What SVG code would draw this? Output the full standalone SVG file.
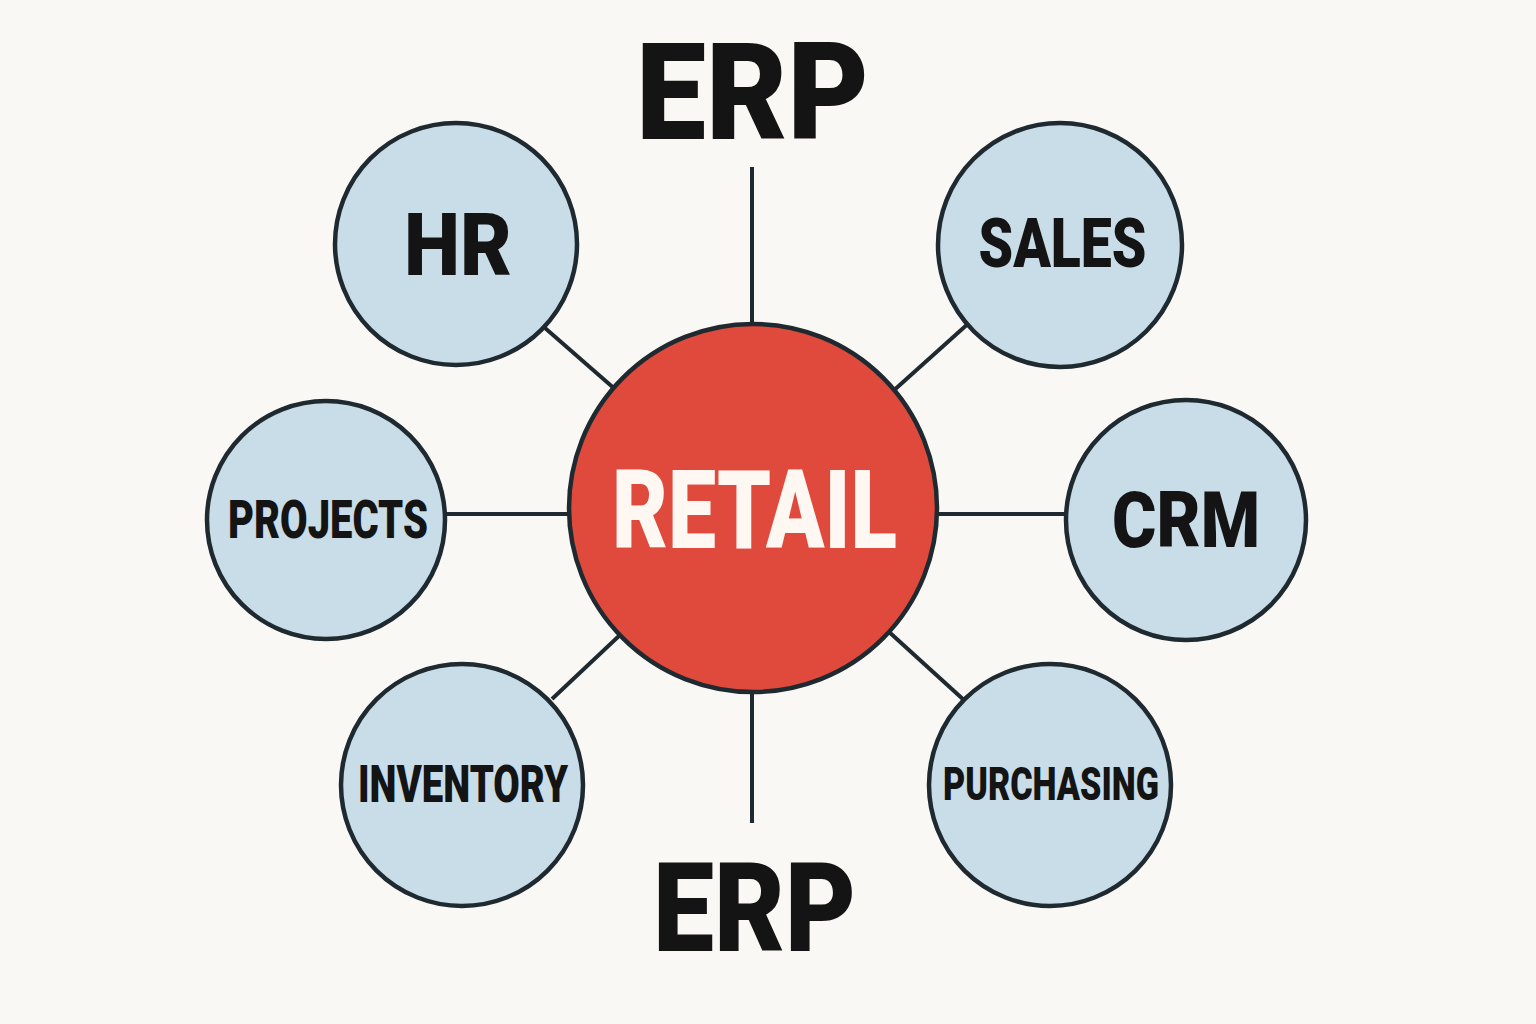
<svg xmlns="http://www.w3.org/2000/svg" width="1536" height="1024" viewBox="0 0 1536 1024">
  <style>
    .bg { fill: #faf8f5; }
    .mod { fill: #c8dde8; stroke: #1e2a30; stroke-width: 4.5; }
    .hub { fill: #e04a3d; stroke: #1e2a30; stroke-width: 4.5; }
    .conn { stroke: #1e2a30; stroke-width: 4; fill: none; stroke-linecap: butt; }
    .lbl { font-family: Roboto, "Liberation Sans", sans-serif; font-weight: 900; fill: #141414; text-anchor: middle; }
    .hublbl { font-family: Roboto, "Liberation Sans", sans-serif; font-weight: 900; fill: #fff8f2; text-anchor: middle; }
    .title { font-family: Roboto, "Liberation Sans", sans-serif; font-weight: 900; fill: #141414; text-anchor: middle; }
  </style>
  <rect class="bg" x="0" y="0" width="1536" height="1024"/>

  <g id="connectors">
    <line class="conn" x1="752" y1="167" x2="752" y2="326"/>
    <line class="conn" x1="752" y1="690" x2="752" y2="823"/>
    <line class="conn" x1="545" y1="328" x2="616" y2="390"/>
    <line class="conn" x1="970" y1="322" x2="892" y2="392"/>
    <line class="conn" x1="442" y1="514" x2="572" y2="514"/>
    <line class="conn" x1="934" y1="514" x2="1069" y2="514"/>
    <line class="conn" x1="552" y1="699" x2="620" y2="635"/>
    <line class="conn" x1="888" y1="631" x2="965" y2="701"/>
  </g>

  <g id="title-top">
    <text class="title" x="752.5" y="139" font-size="135" textLength="233" lengthAdjust="spacingAndGlyphs">ERP</text>
  </g>
  <g id="title-bottom">
    <text class="title" x="754.5" y="951" font-size="124" textLength="203" lengthAdjust="spacingAndGlyphs">ERP</text>
  </g>

  <g id="node-retail">
    <circle class="hub" cx="753" cy="508" r="184"/>
    <text class="hublbl" x="754.5" y="548" font-size="110" textLength="285" lengthAdjust="spacingAndGlyphs">RETAIL</text>
  </g>

  <g id="node-hr">
    <circle class="mod" cx="456" cy="244" r="121"/>
    <text class="lbl" x="458" y="275" font-size="87" textLength="108" lengthAdjust="spacingAndGlyphs">HR</text>
  </g>

  <g id="node-sales">
    <circle class="mod" cx="1060" cy="245" r="122"/>
    <text class="lbl" x="1062.5" y="267" font-size="69" textLength="168" lengthAdjust="spacingAndGlyphs">SALES</text>
  </g>

  <g id="node-projects">
    <circle class="mod" cx="326" cy="520" r="119"/>
    <text class="lbl" x="328" y="538" font-size="53" textLength="200" lengthAdjust="spacingAndGlyphs">PROJECTS</text>
  </g>

  <g id="node-crm">
    <circle class="mod" cx="1186" cy="520" r="120"/>
    <text class="lbl" x="1186" y="547" font-size="77" textLength="148" lengthAdjust="spacingAndGlyphs">CRM</text>
  </g>

  <g id="node-inventory">
    <circle class="mod" cx="462" cy="785" r="121"/>
    <text class="lbl" x="463" y="802" font-size="52" textLength="210" lengthAdjust="spacingAndGlyphs">INVENTORY</text>
  </g>

  <g id="node-purchasing">
    <circle class="mod" cx="1050" cy="785" r="121"/>
    <text class="lbl" x="1051" y="800" font-size="46" textLength="216" lengthAdjust="spacingAndGlyphs">PURCHASING</text>
  </g>
</svg>
